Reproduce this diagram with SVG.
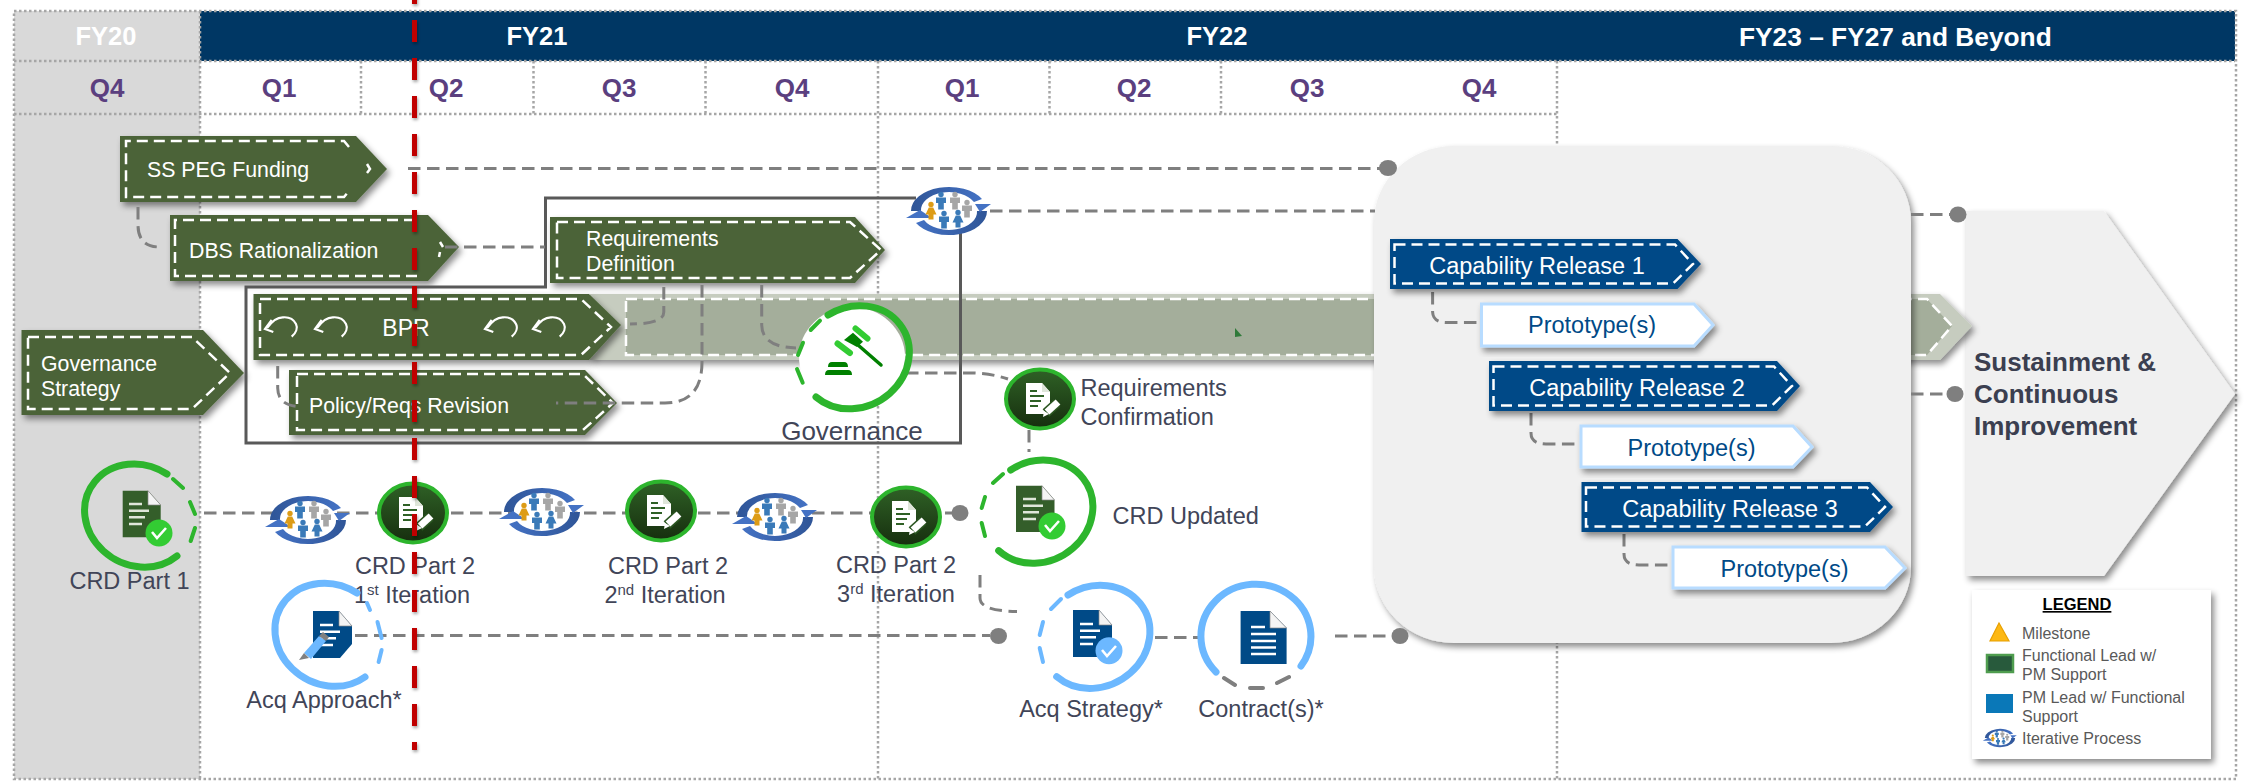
<svg xmlns="http://www.w3.org/2000/svg" width="2245" height="781" viewBox="0 0 2245 781">
<style>
text{font-family:"Liberation Sans",Arial,sans-serif}
.fy{font-size:25.5px;font-weight:700;fill:#fff;text-anchor:middle}
.q{font-size:26px;font-weight:700;fill:#5b3f7f;text-anchor:middle}
.dot{stroke:#a6a6a6;stroke-width:2.5;stroke-dasharray:2.5 2.5;fill:none}
.gc{fill:#4c6439;filter:url(#sh)}
.bc{fill:#004a87;filter:url(#sh)}
.pc{fill:#fff;stroke:#b8dcff;stroke-width:3;filter:url(#sh)}
.in{fill:none;stroke:#fff;stroke-width:2.5;stroke-dasharray:11 6}
.wt{font-size:21.3px;fill:#fff}
.wb{font-size:23.5px;fill:#fff;text-anchor:middle}
.pt{font-size:23.5px;fill:#004a87;text-anchor:middle}
.lb{font-size:23.5px;fill:#414558}
.mid{text-anchor:middle}
.sup{font-size:15px}
.cn{fill:none;stroke:#7f7f7f;stroke-width:3;stroke-dasharray:12.5 6.5}
.dt{fill:#7f7f7f}
.rg{fill:none;stroke:#2db52d;stroke-linecap:round}
.rb{fill:none;stroke:#6cb8ff;stroke-linecap:round}
.t7{stroke-width:7}
.t4{stroke-width:4}
.lg{font-size:16px;fill:#595959}
.wl{stroke:#fff;stroke-width:2.6;fill:none}
.cl{stroke:#dfe6da;stroke-width:2.4;fill:none}
</style>
<defs>
<filter id="sh" x="-10%" y="-15%" width="125%" height="140%"><feDropShadow dx="3" dy="4" stdDeviation="3" flood-color="#000" flood-opacity=".45"/></filter>
<filter id="shr" filterUnits="userSpaceOnUse" x="400" y="-20" width="30" height="780"><feDropShadow dx="1" dy="2" stdDeviation="1.5" flood-color="#000" flood-opacity=".35"/></filter>
<linearGradient id="dk" x1="0" y1="0" x2="0" y2="1"><stop offset="0" stop-color="#2f6126"/><stop offset="1" stop-color="#162e0e"/></linearGradient>
<linearGradient id="bt" x1="0" y1="0" x2="1" y2="0"><stop offset="0" stop-color="#2f5597"/><stop offset="1" stop-color="#4472c4"/></linearGradient>
<linearGradient id="bb" x1="0" y1="0" x2="1" y2="0"><stop offset="0" stop-color="#4472c4"/><stop offset="1" stop-color="#2f5597"/></linearGradient>
<g id="pm"><circle cy="-5.5" r="2.7"/><path d="M-5,-2.5H5V3H2.800V9.500H-2.800V3H-5Z"/></g>
<g id="pf"><circle cy="-5.5" r="2.7"/><path d="M-2.200,-2.500H2.200L5.500,4.500H2.500V9.500H-2.500V4.500H-5.500Z"/></g>
<g id="iter">
<ellipse rx="31" ry="20" fill="#fff"/>
<path d="M-38,0A38,24 0 0 1 33,-11.900L25,-9A28,18 0 0 0 -28,0Z" fill="url(#bt)"/>
<path d="M38,0A38,24 0 0 1 -33,11.900L-25,9A28,18 0 0 0 28,0Z" fill="url(#bb)"/>
<polygon points="26,-7 42,-7 31,1" fill="#4472c4"/>
<polygon points="-43,7 -17,7 -29,-1" fill="#4472c4"/>
<use href="#pm" x="-8" y="-11" fill="#3a7ab8"/>
<use href="#pm" x="6" y="-11" fill="#a6a6a6"/>
<use href="#pm" x="18" y="-3" fill="#a6a6a6"/>
<use href="#pf" x="-18" y="-1" fill="#dd9c16"/>
<use href="#pm" x="-5" y="8" fill="#3a7ab8"/>
<use href="#pf" x="9" y="7" fill="#3a7ab8"/>
</g>
<g id="pen">
<ellipse rx="34" ry="29.5" fill="url(#dk)" stroke="#2db52d" stroke-width="4"/>
<path d="M-14,-16H2L10,-7V15H-14Z" fill="#fff"/>
<path d="M2,-16L10,-7H2Z" fill="#dfe6da"/>
<path d="M-10,-8H-3M-10,-3H4M-10,2H1M-10,7H-2" stroke="#2f6126" stroke-width="1.8" fill="none"/>
<path d="M6,14L17,4" stroke="#2a5520" stroke-width="10"/>
<path d="M7,13L18,3" stroke="#fff" stroke-width="7"/>
<polygon points="3,18 4,12 9,15" fill="#fff"/>
</g>
<g id="doc-lines"><path d="M0,0H13M0,6.700H20M0,13.300H16M0,20H13"/></g>
<g id="arrow-cc" fill="none" stroke="#fff" stroke-width="2.2">
<path d="M11.700,9.700C16,6 18,1 16,-3C13,-9 8,-10 3.300,-9.700C-3,-10 -8,-6 -13,1"/>
<path d="M-8.300,-7L-15,2L-6.700,5"/>
</g>
</defs>

<g id="background">
<rect x="14" y="11" width="186" height="768" fill="#d9d9d9"/>
<rect x="200" y="11" width="678" height="50" fill="#003764"/>
<rect x="878" y="11" width="679" height="50" fill="#003764"/>
<rect x="1557" y="11" width="678" height="50" fill="#003764"/>
<path class="dot" d="M14,11H2236V779H14ZM14,61H2235M14,114H1557M200,11V779M878,61V779M1557,61V779M361,61V114M533.500,61V114M705.500,61V114M1049.500,61V114M1221,61V114"/>
<text class="fy" x="106" y="45">FY20</text>
<text class="fy" x="537" y="45">FY21</text>
<text class="fy" x="1217" y="45">FY22</text>
<text class="fy" x="1739" y="46" style="text-anchor:start;font-size:26.3px">FY23 – FY27 and Beyond</text>
<text class="q" x="107" y="97">Q4</text>
<text class="q" x="279" y="97">Q1</text>
<text class="q" x="446" y="97">Q2</text>
<text class="q" x="619" y="97">Q3</text>
<text class="q" x="792" y="97">Q4</text>
<text class="q" x="962" y="97">Q1</text>
<text class="q" x="1134" y="97">Q2</text>
<text class="q" x="1307" y="97">Q3</text>
<text class="q" x="1479" y="97">Q4</text>
</g>

<g id="sustainment">
<polygon points="1966,211 2104,211 2235,394 2104,576 1966,576" fill="#f0f0f0" filter="url(#sh)"/>
<text x="1974" y="371" font-size="26" font-weight="700" fill="#3b3f50">Sustainment &amp;</text>
<text x="1974" y="403" font-size="26" font-weight="700" fill="#3b3f50">Continuous</text>
<text x="1974" y="435" font-size="26" font-weight="700" fill="#3b3f50">Improvement</text>
</g>

<g id="band">
<polygon points="590,294 1940,294 1972,326 1940,360 590,360" fill="#c6ccbf" filter="url(#sh)"/>
<polygon points="626,299 1927,299 1952,326 1927,355 626,355" fill="#a4ae9b" stroke="#fff" stroke-width="2.5" stroke-dasharray="11 6"/>
<polygon points="1235,328 1242,336 1235,337" fill="#2f7a3a"/>
</g>

<g id="release-panel">
<rect x="1374" y="146" width="537" height="497" rx="80" ry="76" fill="#f0f0f0" filter="url(#sh)"/>
</g>

<g id="n-ss-peg">
<polygon class="gc" points="120,136 356,136 387,169 356,202 120,202"/>
<path class="in" d="M349,147L344,141H126V197H344L349,191"/>
<path class="in" style="stroke-dasharray:none" d="M367,164L370,169L367,173"/>
<text class="wt" x="147" y="177">SS PEG Funding</text>
</g>
<g id="n-dbs">
<polygon class="gc" points="170,215 428,215 459,247 428,281 170,281"/>
<path class="in" d="M415,220H175V276H419"/>
<path class="in" style="stroke-dasharray:none" d="M440,242L443,247M440,252L439,257"/>
<text class="wt" x="189" y="258">DBS Rationalization</text>
</g>
<g id="n-req">
<polygon class="gc" points="550,217 855,217 885,250 855,283 550,283"/>
<polygon class="in" points="557,222 850,222 881,250 850,278 557,278"/>
<text class="wt" x="586" y="246">Requirements</text>
<text class="wt" x="586" y="271">Definition</text>
</g>
<g id="n-bpr">
<polygon class="gc" points="253.500,294 589,294 621,325 589,360 253.500,360"/>
<polygon class="in" points="260,299 581,299 611,327 581,355 260,355"/>
<use href="#arrow-cc" x="280" y="327"/>
<use href="#arrow-cc" x="330" y="327"/>
<use href="#arrow-cc" x="500" y="327"/>
<use href="#arrow-cc" x="548" y="327"/>
<text class="wt mid" x="406" y="336" style="font-size:23px">BPR</text>
</g>
<g id="n-policy">
<polygon class="gc" points="289,370 585,370 617,403 585,435 289,435"/>
<polygon class="in" points="297,374 583,374 613,403 583,430 297,430"/>
<text class="wt" x="309" y="413">Policy/Reqs Revision</text>
</g>
<g id="n-gov-strategy">
<polygon class="gc" points="21.500,330 203,330 244,373 203,415 21.500,415"/>
<polygon class="in" points="28,337 192,337 230,373 192,409 28,409"/>
<text class="wt" x="41" y="371">Governance</text>
<text class="wt" x="41" y="396">Strategy</text>
</g>

<g id="connectors">
<path d="M916,198H545.500V287H246V443H960.500V227" fill="none" stroke="#595959" stroke-width="3"/>
<path class="cn" d="M408,168.500H1380"/>
<ellipse class="dt" cx="1388" cy="168" rx="9" ry="8"/>
<path class="cn" d="M138,207V225Q138,247 160,247"/>
<path class="cn" d="M445,247H545"/>
<path class="cn" d="M990,211H1375"/>
<path class="cn" d="M1911,214.500H1950"/>
<ellipse class="dt" cx="1958" cy="214.500" rx="8.500" ry="8"/>
<path class="cn" d="M1911,394H1948"/>
<ellipse class="dt" cx="1955" cy="394" rx="8.500" ry="8"/>
<path class="cn" d="M277.700,366V388Q278,406 300,406.500"/>
<path class="cn" d="M663.800,287V312Q664,324 630,324"/>
<path class="cn" d="M702,285V362Q702,403 665,403H556"/>
<path class="cn" d="M761.700,285V325Q762,347 796,348"/>
<path class="cn" d="M906,373H970Q990,373 1008,379"/>
<path class="cn" d="M1029,430V452"/>
<path class="cn" d="M204,513H952"/>
<ellipse class="dt" cx="960" cy="513" rx="8.500" ry="8"/>
<path class="cn" d="M355,635.500H990"/>
<ellipse class="dt" cx="998.500" cy="636" rx="8.500" ry="8"/>
<path class="cn" d="M980,575V598Q980,611 1017,611.500"/>
<path class="cn" d="M1155,637.500H1202"/>
<path class="cn" d="M1335,636H1392"/>
<ellipse class="dt" cx="1400" cy="636" rx="8.500" ry="8"/>
<path class="cn" d="M1432.600,292V312Q1433,322.500 1447,322.500H1480"/>
<path class="cn" d="M1531,413V433Q1531,444 1546,444H1579"/>
<path class="cn" d="M1624,534V554Q1624,565 1639,565H1671"/>
</g>

<g id="n-cr1">
<polygon class="bc" points="1390,239 1677.500,239 1701,264 1677.500,289 1390,289"/>
<polygon class="in" points="1394.500,244.500 1675,244.500 1693,264 1673,283.500 1394.500,283.500"/>
<text class="wb" x="1537" y="274">Capability Release 1</text>
</g>
<g id="n-p1">
<polygon class="pc" points="1481.500,304 1694,304 1713,325 1694,346 1481.500,346"/>
<text class="pt" x="1592" y="333">Prototype(s)</text>
</g>
<g id="n-cr2">
<polygon class="bc" points="1489,361 1777,361 1800,386 1777,411 1489,411"/>
<polygon class="in" points="1493.500,366.500 1774,366.500 1792,386 1772,405.500 1493.500,405.500"/>
<text class="wb" x="1637" y="396">Capability Release 2</text>
</g>
<g id="n-p2">
<polygon class="pc" points="1581,426 1793,426 1812,447 1793,467 1581,467"/>
<text class="pt" x="1691.500" y="456">Prototype(s)</text>
</g>
<g id="n-cr3">
<polygon class="bc" points="1581.500,482 1870,482 1893,507 1870,532 1581.500,532"/>
<polygon class="in" points="1586,487.500 1867,487.500 1885,507 1865,526.500 1586,526.500"/>
<text class="wb" x="1730" y="517">Capability Release 3</text>
</g>
<g id="n-p3">
<polygon class="pc" points="1673,547 1885,547 1905,568 1885,588 1673,588"/>
<text class="pt" x="1784.500" y="577">Prototype(s)</text>
</g>

<g id="n-iter1"><use href="#iter" x="949" y="211"/></g>
<g id="n-iter2"><use href="#iter" x="308" y="520"/></g>
<g id="n-iter3"><use href="#iter" x="542" y="512"/></g>
<g id="n-iter4"><use href="#iter" x="775" y="517"/></g>

<g id="n-governance">
<ellipse cx="852" cy="357" rx="53" ry="50" fill="#fff"/>
<path class="rg t7" d="M828,315A56,50 -30 1 1 816,397"/>
<path class="rg t4" d="M820,320.700L810.700,330M803,342.700L798,355M797,369L802.700,382.700"/>
<path d="M825,375Q825,370 829,370H848Q852,370 852,375ZM828,367Q828,362 832,362H844Q848,362 848,367Z" fill="#008000"/>
<path d="M858,345L881,365" stroke="#008000" stroke-width="3.500" stroke-linecap="round"/>
<polygon points="844,340 853,332.700 863,341.700 857,347" fill="#008000"/>
<path d="M855.500,328.500L867.500,338.500M837.500,343.500L850,353" stroke="#33cc33" stroke-width="6" stroke-linecap="round"/>
<text class="lb mid" x="852" y="440" style="font-size:26px">Governance</text>
</g>

<g id="n-crd1">
<path class="rg t7" d="M167,474A56,50 30 1 0 177,556"/>
<path class="rg t4" d="M173,479L183,488M190,502L195,514M195,528L190.700,541"/>
<path d="M122.700,490.700H148L160.700,505V537.300H122.700Z" fill="#345e2a"/>
<path d="M148,490.700L160.700,505H148Z" fill="#f4f4f4" stroke="#888" stroke-width=".7"/>
<use href="#doc-lines" x="129" y="504" class="cl"/>
<circle cx="159" cy="533" r="13.500" fill="#33cc33"/>
<path class="wl" d="M152,532L157,538L166,528"/>
<text class="lb mid" x="129.500" y="589">CRD Part 1</text>
</g>

<g id="n-crd2-1">
<use href="#pen" x="413" y="513"/>
<text class="lb mid" x="415" y="574">CRD Part 2</text>
<text class="lb mid" x="412" y="603">1<tspan class="sup" dy="-8">st</tspan><tspan dy="8"> Iteration</tspan></text>
</g>
<g id="n-crd2-2">
<use href="#pen" x="661" y="511"/>
<text class="lb mid" x="668" y="574">CRD Part 2</text>
<text class="lb mid" x="665" y="603">2<tspan class="sup" dy="-8">nd</tspan><tspan dy="8"> Iteration</tspan></text>
</g>
<g id="n-crd2-3">
<use href="#pen" x="906" y="517"/>
<text class="lb mid" x="896" y="573">CRD Part 2</text>
<text class="lb mid" x="896" y="602">3<tspan class="sup" dy="-8">rd</tspan><tspan dy="8"> Iteration</tspan></text>
</g>

<g id="n-req-confirm">
<use href="#pen" x="1040" y="399"/>
<text class="lb" x="1080.500" y="396">Requirements</text>
<text class="lb" x="1080.500" y="425">Confirmation</text>
</g>

<g id="n-crd-updated">
<path class="rg t7" d="M1010.700,470A56,50 -30 1 1 998.700,550.700"/>
<path class="rg t4" d="M1003,474L993,483M985,497L981.700,508M981.700,523L985,536"/>
<path d="M1016,485.700H1042L1054.500,500V532H1016Z" fill="#345e2a"/>
<path d="M1042,485.700L1054.500,500H1042Z" fill="#f4f4f4" stroke="#888" stroke-width=".7"/>
<use href="#doc-lines" x="1023" y="499" class="cl"/>
<circle cx="1052" cy="526" r="13.500" fill="#33cc33"/>
<path class="wl" d="M1045,525L1050,531L1059,521"/>
<text class="lb" x="1112.500" y="524">CRD Updated</text>
</g>

<g id="n-acq-approach">
<path class="rb t7" d="M357,593A56,50 30 1 0 365,677"/>
<path class="rb t4" d="M367,603L370,610M377.500,622L381.600,638M381.600,650L378.600,662"/>
<path d="M313,611H339L352,626V644L340,658H313Z" fill="#004a87"/>
<path d="M339,611L352,626H339Z" fill="#f4f4f4" stroke="#888" stroke-width=".7"/>
<use href="#doc-lines" x="320" y="625" class="wl"/>
<path d="M304,653L319,636L326,641L311,659Z" fill="#6cb8ff"/>
<path d="M319,636L323,632L329,637L326,641Z" fill="#808080"/>
<path d="M299,660L304,653L309,658Z" fill="#808080"/>
<text class="lb mid" x="324" y="708">Acq Approach*</text>
</g>

<g id="n-acq-strategy">
<path class="rb t7" d="M1068,595A56,50 -30 1 1 1056.700,676.700"/>
<path class="rb t4" d="M1061,599L1051,609M1043,622L1039.700,635M1039.700,648L1043,662"/>
<path d="M1073,610H1099L1112,625V657H1073Z" fill="#004a87"/>
<path d="M1099,610L1112,625H1099Z" fill="#f4f4f4" stroke="#888" stroke-width=".7"/>
<use href="#doc-lines" x="1080" y="624" class="wl"/>
<circle cx="1109" cy="650.700" r="13.500" fill="#6cb8ff"/>
<path class="wl" d="M1102,650L1107,656L1116,646"/>
<text class="lb mid" x="1091" y="717">Acq Strategy*</text>
</g>

<g id="n-contract">
<path class="rb t7" d="M1216,672A55,52 0 1 1 1301,666"/>
<path d="M1224,678L1235,685M1250,688L1263,688M1277,683L1289,677" fill="none" stroke="#7f7f7f" stroke-width="4" stroke-linecap="round"/>
<path d="M1240.600,611H1270L1286.600,628V664H1240.600Z" fill="#004a87"/>
<path d="M1270,611L1286.600,628H1270Z" fill="#f4f4f4" stroke="#888" stroke-width=".7"/>
<path class="wl" d="M1251,627H1265M1251,634H1276M1251,641H1276M1251,647.500H1276M1251,654H1276"/>
<text class="lb mid" x="1261" y="717">Contract(s)*</text>
</g>

<g id="legend">
<rect x="1972" y="590" width="239" height="169" fill="#fff" filter="url(#sh)"/>
<text x="2077" y="610" font-size="16.500" font-weight="700" fill="#000" text-anchor="middle" text-decoration="underline">LEGEND</text>
<polygon points="1999,623 2009,641 1990,641" fill="#fdb813" stroke="#e8a000" stroke-width="1.200"/>
<text class="lg" x="2022" y="639">Milestone</text>
<rect x="1987" y="655" width="26" height="17" fill="#285a3c" stroke="#4f9d4f" stroke-width="2.500"/>
<text class="lg" x="2022" y="661">Functional Lead w/</text>
<text class="lg" x="2022" y="680">PM Support</text>
<rect x="1986" y="694" width="27" height="19" fill="#0a78b8"/>
<text class="lg" x="2022" y="703">PM Lead w/ Functional</text>
<text class="lg" x="2022" y="722">Support</text>
<use href="#iter" transform="translate(2000,738) scale(.4,.38)"/>
<text class="lg" x="2022" y="744">Iterative Process</text>
</g>

<g id="today-line">
<path d="M414.500,-18V750" fill="none" stroke="#c00000" stroke-width="5" stroke-dasharray="22 16" filter="url(#shr)"/>
</g>
</svg>
